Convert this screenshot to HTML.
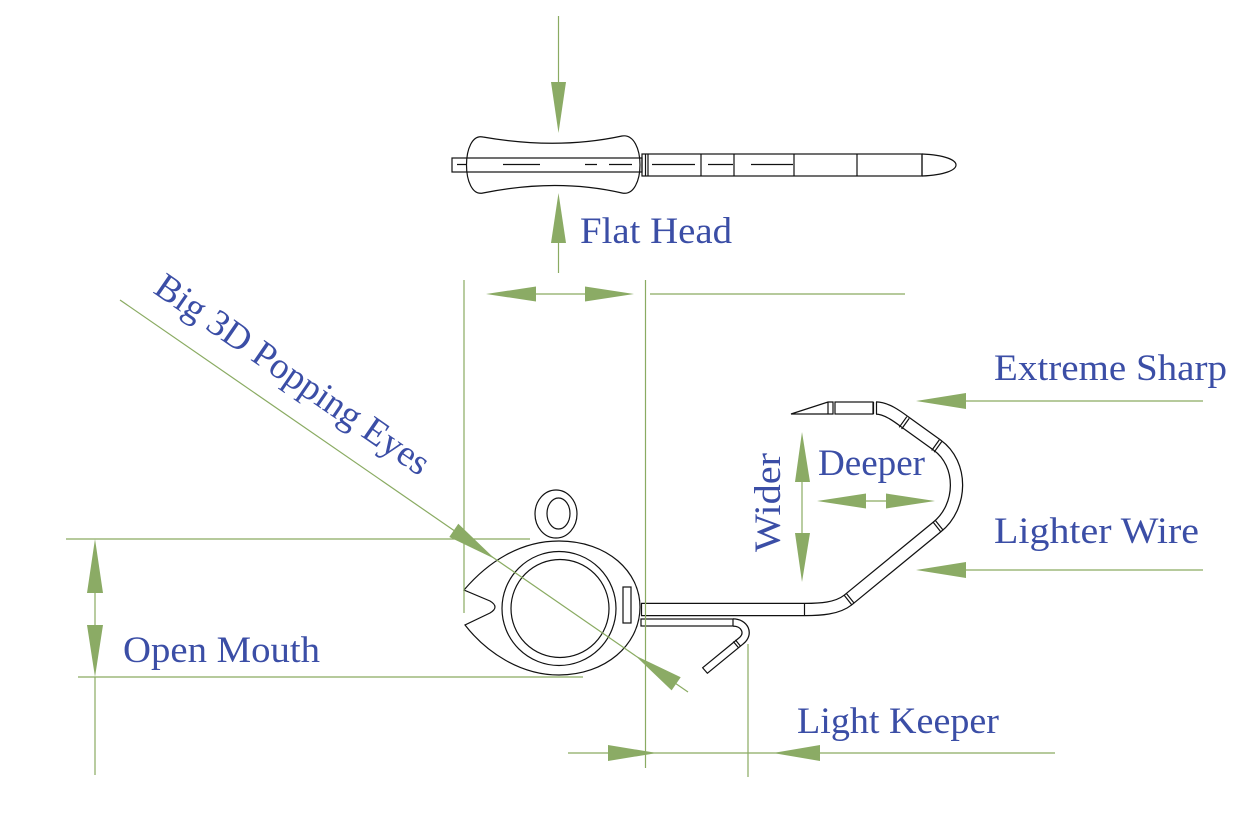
<!DOCTYPE html>
<html><head><meta charset="utf-8"><style>
html,body{margin:0;padding:0;background:#fff;}
svg{display:block;}
text{font-family:"Liberation Serif",serif;font-size:37px;fill:#3b4ea6;}
</style></head><body>
<svg width="1245" height="825" viewBox="0 0 1245 825" xmlns="http://www.w3.org/2000/svg">
<rect width="1245" height="825" fill="#fff"/>

<!-- ===== Top view (flat head) ===== -->
<g fill="none" stroke="#111" stroke-width="1.2">
  <rect x="452" y="158" width="190" height="14"/>
  <path d="M483 137 Q557 150 622 136 C646 132 646 198 622 193 Q557 178 483 193 C461 198 461 132 483 137 Z"/>
  <path d="M457 164.5 H467 M503 164.5 H540 M585 164.5 H597 M609 164.5 H632"/>
  <rect x="642" y="154" width="280" height="22"/>
  <path d="M645.5 154 V176 M648 154 V176"/>
  <path d="M701 154 V176 M734 154 V176 M794 154 V176 M857 154 V176 M922 154 V176"/>
  <path d="M652 164.5 H695 M708 164.5 H733 M751 164.5 H793"/>
  <path d="M922 154 C945 155 956 160 956 165 C956 170 945 175 922 176"/>
</g>

<!-- ===== Jig head side view ===== -->
<g fill="none" stroke="#111" stroke-width="1.2">
  <!-- line tie -->
  <ellipse cx="556" cy="514" rx="21" ry="24"/>
  <ellipse cx="558.5" cy="513.5" rx="11.5" ry="15.5"/>
  <!-- body -->
  <path d="M464 590 C488 562 520 541 559 541 C608 541 640 572 640 607 C640 645 605 675 559 675 C520 675 486 652 465 625 L490 613 Q500 607 490 601 Z"/>
  <circle cx="559" cy="608.5" r="57"/>
  <circle cx="560" cy="608.5" r="49"/>
  <rect x="623" y="587" width="8" height="36"/>
</g>

<!-- ===== Hook wire ===== -->
<path d="M641 609.5 L805 609.5 C820 609.5 837 608.7 848 600 L937 527 C962.5 506.7 963.5 464 937 445 L905 422 C897 416 886 408 876 408"
      fill="none" stroke="#111" stroke-width="13.5"/>
<path d="M641 609.5 L805 609.5 C820 609.5 837 608.7 848 600 L937 527 C962.5 506.7 963.5 464 937 445 L905 422 C897 416 886 408 876 408"
      fill="none" stroke="#fff" stroke-width="11"/>
<g fill="none" stroke="#111" stroke-width="1.2">
  <path d="M641.5 603 V616"/>
  <path d="M804.5 603 V616"/>
  <path d="M873.5 402 V414 M876.5 402 V414"/>
  <!-- joints -->
  <path d="M843.9 594.9 L852 605.1 M846.2 593.2 L854.3 603.4"/>
  <path d="M932.9 521.9 L941 532.1 M935.2 520.2 L943.3 530.4"/>
  <path d="M939.3 439.9 L931.7 450.5 M941.7 441.6 L934.1 452.2"/>
  <path d="M906.8 416.7 L899.2 427.3 M909.2 418.4 L901.6 429"/>
  <!-- shank rect and point -->
  <rect x="835" y="402" width="38" height="12"/>
  <path d="M791 414 L828 402 H833 V414 Z M828 402 V414"/>
</g>

<!-- ===== Keeper ===== -->
<path d="M733 622.5 C745 622.5 750 634 741 641 L705 670.5" fill="none" stroke="#111" stroke-width="8.5"/>
<path d="M733 622.5 C745 622.5 750 634 741 641 L705 670.5" fill="none" stroke="#fff" stroke-width="6"/>
<g fill="none" stroke="#111" stroke-width="1.2">
  <rect x="641" y="619" width="92" height="7"/>
  <path d="M702.3 667.4 L707.7 673.6"/>
  <path d="M733.3 641.5 L738.5 647.8 M735.4 639.9 L740.6 646.2"/>
</g>

<!-- ===== Green dimension lines ===== -->
<g stroke="#8aab62" stroke-width="1.2" fill="none">
  <path d="M558.5 16 V82"/>
  <path d="M558.5 243 V273"/>
  <path d="M536 294 H585"/>
  <path d="M650 294 H905"/>
  <path d="M464 280 V613"/>
  <path d="M645.5 280 V768"/>
  <path d="M66 539 H530"/>
  <path d="M78 677 H583"/>
  <path d="M95 593 V625 M95 677 V775"/>
  <path d="M568 753 H1055"/>
  <path d="M748 644 V777"/>
  <path d="M966 401 H1203"/>
  <path d="M966 570 H1203"/>
  <path d="M802 482 V533"/>
  <path d="M866 501 H886"/>
  <path d="M120 300 L688 692"/>
</g>
<g fill="#8bab65" stroke="none">
  <polygon points="551,82 566,82 558.5,133"/>
  <polygon points="558.5,193 551,243 566,243"/>
  <polygon points="486,294 536,286.5 536,301.5"/>
  <polygon points="585,286.5 585,301.5 634,294"/>
  <polygon points="95,539 87,593 103,593"/>
  <polygon points="87,625 103,625 95,677"/>
  <polygon points="608,745 608,761 657,753"/>
  <polygon points="773,753 820,745 820,761"/>
  <polygon points="916,401 966,393 966,409"/>
  <polygon points="916,570 966,562 966,578"/>
  <polygon points="802,432 795,482 810,482"/>
  <polygon points="795,533 810,533 802,582"/>
  <polygon points="817,501 866,493.5 866,508.5"/>
  <polygon points="886,493.5 886,508.5 935,501"/>
  <polygon points="449.3,537 458.3,523.8 495,559"/>
  <polygon points="635,655.4 671.6,690.4 680.7,677.2"/>
</g>

<!-- ===== Labels ===== -->
<text x="580" y="243" textLength="152" lengthAdjust="spacingAndGlyphs">Flat Head</text>
<text x="994" y="380" textLength="233" lengthAdjust="spacingAndGlyphs">Extreme Sharp</text>
<text x="994" y="543" textLength="205" lengthAdjust="spacingAndGlyphs">Lighter Wire</text>
<text x="818" y="475" textLength="107" lengthAdjust="spacingAndGlyphs">Deeper</text>
<text transform="translate(780,552) rotate(-90)" textLength="99" lengthAdjust="spacingAndGlyphs">Wider</text>
<text x="123" y="662" textLength="197" lengthAdjust="spacingAndGlyphs">Open Mouth</text>
<text x="797" y="733" textLength="202" lengthAdjust="spacingAndGlyphs">Light Keeper</text>
<text transform="translate(152,292) rotate(34.6)" textLength="325" lengthAdjust="spacingAndGlyphs">Big 3D Popping Eyes</text>
</svg>
</body></html>
